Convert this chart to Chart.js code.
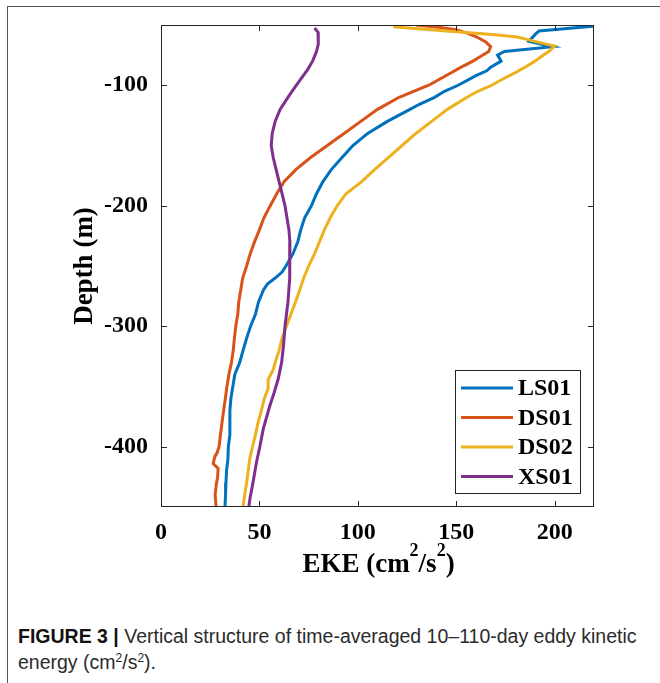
<!DOCTYPE html>
<html>
<head>
<meta charset="utf-8">
<script src="https://cdn.jsdelivr.net/npm/chart.js@4.4.0/dist/chart.umd.min.js"></script>
<style>
  body { margin: 0; background: #fff; }
  #wrap { position: relative; width: 660px; height: 683px; overflow: hidden; }
  #frame { position: absolute; left: 7px; top: 6px; width: 700px; height: 700px;
           border-left: 1px solid #555; border-top: 1px solid #555; }
  #chart { position: absolute; left: 0; top: 0; }
  #caption { position: absolute; left: 18px; top: 623px; width: 640px;
             font-family: 'Liberation Sans Narrow', 'Liberation Sans', sans-serif;
             font-size: 19.5px; line-height: 26px; color: #2b2b2b; }
  #caption b { color: #111; }
  #caption sup { font-size: 12px; line-height: 0; }
</style>
</head>
<body>
<div id="wrap">
  <div id="frame"></div>
  <canvas id="chart" width="660" height="600"></canvas>
  <div id="caption"><b>FIGURE 3 |</b> Vertical structure of time-averaged 10–110-day eddy kinetic energy (cm<sup>2</sup>/s<sup>2</sup>).</div>
</div>
<script>
// station names and line colours
var seriesNames = ['LS01', 'DS01', 'DS02', 'XS01'];
var seriesColors = ['#0072BD', '#D95319', '#EDB120', '#7E2F8E'];

// EKE profiles (cm2/s2) against depth (m) for each station
var ls01Depth = [-51, -55, -58, -63.5, -68, -72, -75, -80, -85, -88, -92, -100, -105, -110, -116, -120, -130, -140, -150, -160,
                 -170, -180, -190, -200, -210, -220, -230, -240, -250, -255, -260, -265, -270, -280, -290, -300, -310, -320, -330, -340,
                 -350, -360, -370, -380, -390, -400, -410, -420, -430, -440, -450];
var ls01Eke = [219.5, 192, 190, 187, 199, 174.5, 171, 172.8, 167.5, 165.5, 160, 151, 144, 139, 131, 126.5, 115, 105, 97.5, 92,
               86.5, 82.3, 79, 76.4, 73, 71, 69.5, 67, 63.5, 61.5, 58, 54, 52, 49.5, 48, 45.5, 43.5, 41.7, 40, 37.5,
               36.5, 35.5, 35, 35, 35, 34.2, 34, 33.3, 33, 32.8, 32.5];

var ds01Depth = [-50, -52, -54, -57, -60, -64, -68, -72, -76, -80, -85, -90, -95, -100, -110, -120, -130, -140, -150, -160,
                 -170, -180, -190, -200, -210, -220, -230, -240, -250, -260, -270, -280, -290, -300, -310, -320, -330, -340, -350, -360,
                 -370, -380, -390, -400, -405, -408, -414, -418, -425, -430, -440, -450];
var ds01Eke = [129.5, 142, 150, 156, 160.5, 165, 167.5, 166.5, 162.5, 158.5, 152.5, 147, 141.5, 136, 121, 110, 101.5, 93, 84.5, 76,
               68.5, 62.5, 58.8, 55.5, 52.3, 50, 47.5, 45.3, 43.5, 41.5, 40.5, 39.5, 39, 38, 37.3, 36.7, 35.8, 34.5, 33.5, 32.7,
               31.8, 31, 30.2, 29.5, 28.5, 27.4, 26.5, 29, 28.8, 28.2, 27.5, 28];

var ds02Depth = [-51.5, -55, -58, -60, -64, -67.5, -72, -76, -80, -85, -90, -95, -100, -105, -110, -120, -130, -140, -150, -160,
                 -170, -180, -190, -200, -210, -220, -230, -240, -250, -260, -270, -280, -290, -300, -310, -320, -330, -336, -344, -352,
                 -360, -370, -380, -390, -400, -410, -420, -430, -440, -450];
var ds02Eke = [118, 145, 170, 181, 191, 200, 197, 193.5, 190, 185, 179.5, 173.5, 168, 161, 155.5, 145.5, 137.5, 129.5, 122.5, 115.5,
               108.5, 102, 94, 89.5, 86, 83, 80.5, 78, 75, 72.5, 70.5, 68.3, 66, 63.7, 61.5, 60, 58, 57, 54.5, 54.4,
               52.5, 51, 49.3, 48, 46.5, 45.1, 44.3, 43.5, 42.5, 41.7];

var xs01Depth = [-52.5, -56, -60, -66, -72, -76, -80, -87, -95, -104, -110, -120, -130, -140, -150, -160, -170, -180, -190, -200,
                 -210, -220, -230, -245, -260, -280, -300, -315, -330, -344, -355, -366, -385, -400, -413, -430, -443, -450];
var xs01Eke = [78, 79.8, 80, 79.8, 79, 78, 77, 74.5, 71, 67, 64.5, 60.5, 58, 56.5, 56, 57, 58.5, 60, 61.5, 63,
               64, 65, 65.5, 65.5, 65.3, 64.5, 63, 62.3, 61.3, 59.5, 57.5, 55.3, 52, 50.2, 48.5, 46.7, 45.2, 44.6];

var xTicks = [0, 50, 100, 150, 200];
var yTicks = [-100, -200, -300, -400];

var depths = [ls01Depth, ds01Depth, ds02Depth, xs01Depth];
var ekes = [ls01Eke, ds01Eke, ds02Eke, xs01Eke];

var axisColor = '#262626';
var serif = "'Liberation Serif', 'Times New Roman', serif";

function toPoints(depth, eke) {
    return depth.map(function (d, i) { return { x: eke[i], y: d }; });
}

// box with inward ticks on all four sides, the legend inside the axes,
// and the x-axis label with raised exponents
var matlabBox = {
    id: 'matlabBox',
    afterDatasetsDraw: function (chart) {
        var ctx = chart.ctx;
        var a = chart.chartArea;
        var xs = chart.scales.x, ys = chart.scales.y;
        var tick = 6;
        ctx.save();
        ctx.strokeStyle = axisColor;
        ctx.lineWidth = 1;
        ctx.strokeRect(Math.round(a.left) + 0.5, Math.round(a.top) + 0.5,
                       Math.round(a.right - a.left) - 1, Math.round(a.bottom - a.top) - 1);
        ctx.beginPath();
        xTicks.forEach(function (v) {
            var px = Math.round(xs.getPixelForValue(v)) + 0.5;
            ctx.moveTo(px, a.bottom); ctx.lineTo(px, a.bottom - tick);
            ctx.moveTo(px, a.top); ctx.lineTo(px, a.top + tick);
        });
        yTicks.forEach(function (v) {
            var py = Math.round(ys.getPixelForValue(v)) + 0.5;
            ctx.moveTo(a.left, py); ctx.lineTo(a.left + tick, py);
            ctx.moveTo(a.right, py); ctx.lineTo(a.right - tick, py);
        });
        ctx.stroke();

        // legend
        var bx = 455.5, by = 370.5, bw = 125, bh = 123;
        ctx.fillStyle = '#fff';
        ctx.fillRect(bx, by, bw, bh);
        ctx.strokeRect(bx, by, bw, bh);
        ctx.font = 'bold 24px ' + serif;
        ctx.textBaseline = 'middle';
        ctx.textAlign = 'left';
        seriesNames.forEach(function (name, i) {
            var y = 388 + i * 29.5;
            ctx.strokeStyle = seriesColors[i];
            ctx.lineWidth = 3;
            ctx.beginPath();
            ctx.moveTo(461, y); ctx.lineTo(513, y);
            ctx.stroke();
            ctx.fillStyle = '#000';
            ctx.fillText(name, 518, y + 1);
        });

        // x-axis label: EKE (cm^2/s^2)
        var parts = [['EKE (cm', false], ['2', true], ['/s', false], ['2', true], [')', false]];
        var big = 'bold 27px ' + serif, small = 'bold 18px ' + serif;
        var total = 0;
        parts.forEach(function (p) { ctx.font = p[1] ? small : big; total += ctx.measureText(p[0]).width; });
        var x = (a.left + a.right) / 2 - total / 2 + 1;
        var base = 572;
        ctx.textBaseline = 'alphabetic';
        ctx.fillStyle = '#000';
        parts.forEach(function (p) {
            ctx.font = p[1] ? small : big;
            ctx.fillText(p[0], x, p[1] ? base - 16 : base);
            x += ctx.measureText(p[0]).width;
        });
        ctx.restore();
    }
};

var ctx = document.getElementById('chart').getContext('2d');
var chart = new Chart(ctx, {
    type: 'scatter',
    data: {
        datasets: seriesNames.map(function (name, i) {
            return {
                label: name,
                data: toPoints(depths[i], ekes[i]),
                showLine: true,
                borderColor: seriesColors[i],
                backgroundColor: seriesColors[i],
                borderWidth: 3,
                pointRadius: 0,
                pointHoverRadius: 0,
                tension: 0,
                order: seriesNames.length - 1 - i   // later stations drawn on top
            };
        })
    },
    options: {
        responsive: false,
        animation: false,
        layout: { padding: { left: 60, right: 66, top: 25, bottom: 0 } },
        plugins: { legend: { display: false }, tooltip: { enabled: false } },
        scales: {
            x: {
                type: 'linear', min: 0, max: 220,
                grid: { display: false }, border: { display: false },
                afterBuildTicks: function (s) { s.ticks = xTicks.map(function (v) { return { value: v }; }); },
                afterFit: function (s) { s.height = 93; },
                ticks: { padding: 3, color: '#000', font: { family: serif, size: 24, weight: 'bold' } },
                title: { display: false }
            },
            y: {
                type: 'linear', min: -450, max: -50,
                grid: { display: false }, border: { display: false },
                afterBuildTicks: function (s) { s.ticks = yTicks.map(function (v) { return { value: v }; }); },
                afterFit: function (s) { s.width = 101; },
                ticks: { padding: 5, color: '#000', font: { family: serif, size: 24, weight: 'bold' } },
                title: { display: true, text: 'Depth (m)', color: '#000', padding: { top: 9, bottom: 0 },
                         font: { family: serif, size: 27, weight: 'bold' } }
            }
        }
    },
    plugins: [matlabBox]
});
</script>
</body>
</html>
